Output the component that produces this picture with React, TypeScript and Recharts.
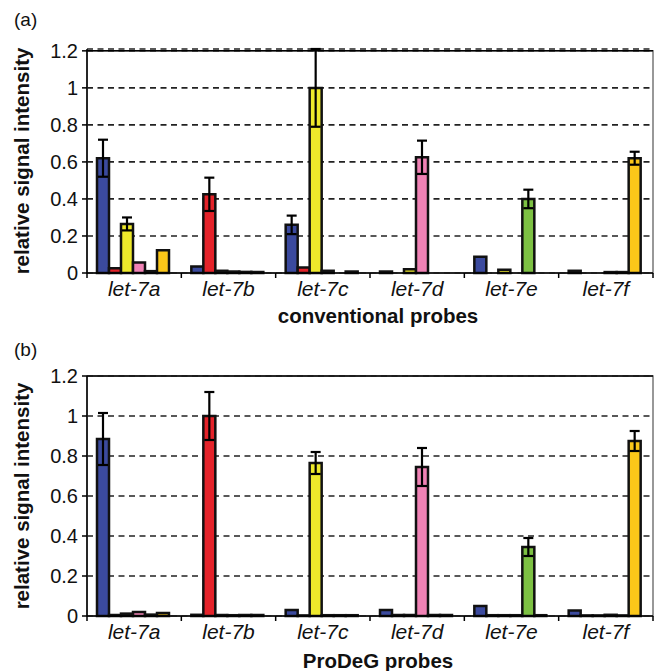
import React from 'react';
import {
  BarChart,
  Bar,
  XAxis,
  YAxis,
  CartesianGrid,
  ErrorBar,
  ReferenceArea,
  ReferenceLine,
  Label,
} from 'recharts';

const FONT = '"Liberation Sans", Arial, Helvetica, sans-serif';
const W = 654;
const LEFT = 87;
const RIGHT_MARGIN = 1;
const PLOT_W = W - LEFT - RIGHT_MARGIN;

const categories = ['let-7a', 'let-7b', 'let-7c', 'let-7d', 'let-7e', 'let-7f'];
const seriesKeys = ['s7a', 's7b', 's7c', 's7d', 's7e', 's7f'];
const seriesColors = ['#3B4A9E', '#E4232A', '#EEE92B', '#F082B5', '#7DC143', '#FBC719'];
const yTicks = [0, 0.2, 0.4, 0.6, 0.8, 1, 1.2];

// (a) conventional probes — one array per target series, indexed by category
const convA = [0.62, 0.035, 0.26, 0.008, 0.088, 0.012];
const convAErr = [0.1, 0, 0.05, 0, 0, 0];
const convB = [0.025, 0.425, 0.03, 0, 0, 0];
const convBErr = [0, 0.09, 0, 0, 0, 0];
const convC = [0.265, 0.012, 1.0, 0.02, 0.018, 0];
const convCErr = [0.035, 0, 0.21, 0, 0, 0];
const convD = [0.057, 0.008, 0.012, 0.625, 0, 0.005];
const convDErr = [0, 0, 0, 0.09, 0, 0];
const convE = [0.01, 0.006, 0, 0, 0.4, 0.005];
const convEErr = [0, 0, 0, 0, 0.05, 0];
const convF = [0.123, 0.006, 0.008, 0, 0, 0.62];
const convFErr = [0, 0, 0, 0, 0, 0.035];

// (b) ProDeG probes
const prodA = [0.885, 0.006, 0.03, 0.03, 0.05, 0.028];
const prodAErr = [0.13, 0, 0, 0, 0, 0];
const prodB = [0.005, 1.0, 0.003, 0.005, 0.004, 0.003];
const prodBErr = [0, 0.12, 0, 0, 0, 0];
const prodC = [0.012, 0.005, 0.765, 0.005, 0.004, 0.003];
const prodCErr = [0, 0, 0.055, 0, 0, 0];
const prodD = [0.02, 0.004, 0.004, 0.745, 0.004, 0.006];
const prodDErr = [0, 0, 0, 0.095, 0, 0];
const prodE = [0.007, 0.005, 0.004, 0.005, 0.345, 0.003];
const prodEErr = [0, 0, 0, 0, 0.045, 0];
const prodF = [0.015, 0.005, 0.004, 0.005, 0.004, 0.875];
const prodFErr = [0, 0, 0, 0, 0, 0.05];

function buildRows(values: number[][], errs: number[][]) {
  return categories.map((cat, i) => {
    const row: Record<string, any> = { cat };
    seriesKeys.forEach((k, s) => {
      row[k] = values[s][i];
      row[k + 'Err'] = errs[s][i];
    });
    return row;
  });
}

const convData = buildRows(
  [convA, convB, convC, convD, convE, convF],
  [convAErr, convBErr, convCErr, convDErr, convEErr, convFErr]
);
const prodData = buildRows(
  [prodA, prodB, prodC, prodD, prodE, prodF],
  [prodAErr, prodBErr, prodCErr, prodDErr, prodEErr, prodFErr]
);

const CatTick = (props: any) => {
  const { x, y, payload } = props;
  const bw = PLOT_W / categories.length;
  const isLast = payload && payload.value === categories[categories.length - 1];
  return (
    <g>
      <line x1={x - bw / 2} x2={x - bw / 2} y1={y} y2={y + 5} stroke="#000" strokeWidth={1.5} />
      {isLast && (
        <line x1={x + bw / 2} x2={x + bw / 2} y1={y} y2={y + 5} stroke="#000" strokeWidth={1.5} />
      )}
      <text
        x={x}
        y={y + 23}
        textAnchor="middle"
        fontStyle="italic"
        fontSize={21}
        fontFamily={FONT}
        fill="#111"
      >
        {payload.value}
      </text>
    </g>
  );
};

type PanelProps = {
  top: number;
  height: number;
  marginTop: number;
  axisH: number;
  data: any[];
  title: string;
  tag: string;
  titleBaseline: number;
};

function Panel({ top, height, marginTop, axisH, data, title, tag, titleBaseline }: PanelProps) {
  const plotH = height - marginTop - axisH;
  const cy = marginTop + plotH / 2;
  return (
    <div style={{ position: 'absolute', left: 0, top, width: W, height }}>
      <BarChart
        width={W}
        height={height}
        data={data}
        margin={{ top: marginTop, right: RIGHT_MARGIN, bottom: 0, left: 0 }}
        barCategoryGap={10}
        barGap={0}
      >
        <CartesianGrid
          horizontal
          vertical={false}
          stroke="#222"
          strokeDasharray="6 4.5"
          strokeWidth={1.7}
        />
        <ReferenceArea
          y1={0}
          y2={1.2}
          fill="none"
          stroke="#777"
          strokeWidth={1.5}
          ifOverflow="visible"
        />
        <ReferenceLine y={1.2} stroke="#000" strokeWidth={1.5} ifOverflow="visible" />
        <XAxis
          dataKey="cat"
          height={axisH}
          interval={0}
          axisLine={{ stroke: '#000', strokeWidth: 1.5 }}
          tickLine={false}
          tickSize={0}
          tickMargin={0}
          tick={<CatTick />}
        >
          <Label
            content={() => (
              <text
                x={378}
                y={titleBaseline}
                textAnchor="middle"
                fontWeight="bold"
                fontSize={20.5}
                fontFamily={FONT}
                fill="#111"
              >
                {title}
              </text>
            )}
          />
        </XAxis>
        <YAxis
          domain={[0, 1.2]}
          ticks={yTicks}
          interval={0}
          width={LEFT}
          tickSize={5}
          tickMargin={4}
          axisLine={{ stroke: '#000', strokeWidth: 1.5 }}
          tickLine={{ stroke: '#000', strokeWidth: 1.5 }}
          tick={{ fill: '#111', fontSize: 20, fontFamily: FONT }}
          tickFormatter={(v: number) => String(v)}
        >
          <Label
            content={() => (
              <g>
                <text
                  x={14}
                  y={26}
                  fontSize={19}
                  fontFamily={FONT}
                  fill="#111"
                >
                  {tag}
                </text>
                <text
                  x={29}
                  y={cy}
                  transform={`rotate(-90 29 ${cy})`}
                  textAnchor="middle"
                  fontWeight="bold"
                  fontSize={20.5}
                  fontFamily={FONT}
                  fill="#111"
                >
                  relative signal intensity
                </text>
              </g>
            )}
          />
        </YAxis>
        {seriesKeys.map((k, i) => (
          <Bar
            key={k}
            dataKey={k}
            fill={seriesColors[i]}
            stroke="#111"
            strokeWidth={2.5}
            isAnimationActive={false}
          >
            <ErrorBar
              dataKey={k + 'Err'}
              width={5}
              stroke="#000"
              strokeWidth={2.2}
              direction="y"
              isAnimationActive={false}
            />
          </Bar>
        ))}
      </BarChart>
    </div>
  );
}

export default function App() {
  return (
    <div
      style={{
        position: 'absolute',
        left: 0,
        top: 0,
        width: 654,
        height: 671,
        background: '#fff',
        overflow: 'hidden',
      }}
    >
      <Panel
        top={0}
        height={330}
        marginTop={49}
        axisH={57}
        data={convData}
        title="conventional probes"
        tag="(a)"
        titleBaseline={323}
      />
      <Panel
        top={330}
        height={341}
        marginTop={46}
        axisH={55}
        data={prodData}
        title="ProDeG probes"
        tag="(b)"
        titleBaseline={338}
      />
    </div>
  );
}
